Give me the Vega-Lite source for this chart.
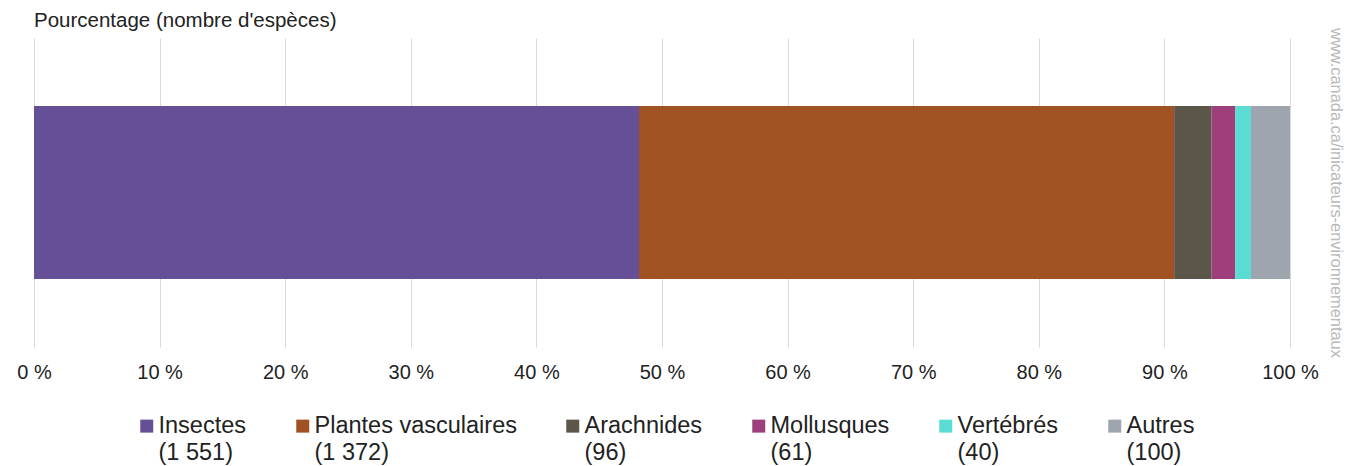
{
  "$schema": "https://vega.github.io/schema/vega-lite/v6.json",
  "autosize": {"type": "none"},
  "padding": {"left": 34, "top": 38, "right": 67, "bottom": 119},
  "width": 1256,
  "height": 309,
  "background": "white",
  "title": {
    "text": "Pourcentage (nombre d'espèces)",
    "anchor": "start",
    "frame": "group",
    "offset": -4,
    "font": "Liberation Sans",
    "fontSize": 20.5,
    "fontWeight": "normal",
    "color": "#222222"
  },
  "config": {
    "view": {"stroke": null},
    "font": "Liberation Sans",
    "style": {"guide-label": {"lineHeight": 27}}
  },
  "data": {
    "values": [
      {"groupe": "Insectes", "nombre": 1551, "libelle": "Insectes|(1 551)", "ordre": 1, "serie": "Espèces"},
      {"groupe": "Plantes vasculaires", "nombre": 1372, "libelle": "Plantes vasculaires|(1 372)", "ordre": 2, "serie": "Espèces"},
      {"groupe": "Arachnides", "nombre": 96, "libelle": "Arachnides|(96)", "ordre": 3, "serie": "Espèces"},
      {"groupe": "Mollusques", "nombre": 61, "libelle": "Mollusques|(61)", "ordre": 4, "serie": "Espèces"},
      {"groupe": "Vertébrés", "nombre": 40, "libelle": "Vertébrés|(40)", "ordre": 5, "serie": "Espèces"},
      {"groupe": "Autres", "nombre": 100, "libelle": "Autres|(100)", "ordre": 6, "serie": "Espèces"}
    ]
  },
  "mark": {"type": "bar"},
  "encoding": {
    "x": {
      "field": "nombre",
      "type": "quantitative",
      "stack": "normalize",
      "scale": {"domain": [0, 1], "nice": false},
      "axis": {
        "title": null,
        "values": [0, 0.1, 0.2, 0.3, 0.4, 0.5, 0.6, 0.7, 0.8, 0.9, 1],
        "labelExpr": "format(datum.value * 100, 'd') + ' %'",
        "grid": true,
        "gridColor": "#d9d9d9",
        "gridWidth": 1,
        "domain": false,
        "ticks": false,
        "labelPadding": 15,
        "labelFontSize": 20,
        "labelColor": "#222222",
        "labelFont": "Liberation Sans",
        "labelFlush": false
      }
    },
    "y": {
      "field": "serie",
      "type": "nominal",
      "scale": {"paddingInner": 0, "paddingOuter": 0.393},
      "axis": {
        "orient": "right",
        "labels": false,
        "ticks": false,
        "domain": false,
        "grid": false,
        "title": "www.canada.ca/inicateurs-environnementaux",
        "titleAngle": 90,
        "titleFont": "Liberation Sans",
        "titleFontSize": 16.4,
        "titleFontWeight": "normal",
        "titleColor": "#b8b8b8",
        "titlePadding": 37
      }
    },
    "color": {
      "field": "libelle",
      "type": "nominal",
      "scale": {
        "domain": ["Insectes|(1 551)", "Plantes vasculaires|(1 372)", "Arachnides|(96)", "Mollusques|(61)", "Vertébrés|(40)", "Autres|(100)"],
        "range": ["#654f96", "#a05222", "#5c554a", "#9c3f7b", "#5adcd4", "#9ea5ae"]
      },
      "legend": {
        "title": null,
        "orient": "none",
        "legendX": 101,
        "legendY": 376,
        "direction": "horizontal",
        "columns": 6,
        "symbolType": "square",
        "symbolSize": 169,
        "symbolStrokeWidth": 0,
        "labelExpr": "split(datum.label, '|')",
        "labelFont": "Liberation Sans",
        "labelFontSize": 23.5,
        "labelColor": "#222222",
        "labelOffset": 0,
        "labelLimit": 400,
        "columnPadding": 44
      }
    },
    "order": {"field": "ordre", "type": "quantitative"},
    "tooltip": [
      {"field": "groupe", "type": "nominal"},
      {"field": "nombre", "type": "quantitative"}
    ]
  }
}
